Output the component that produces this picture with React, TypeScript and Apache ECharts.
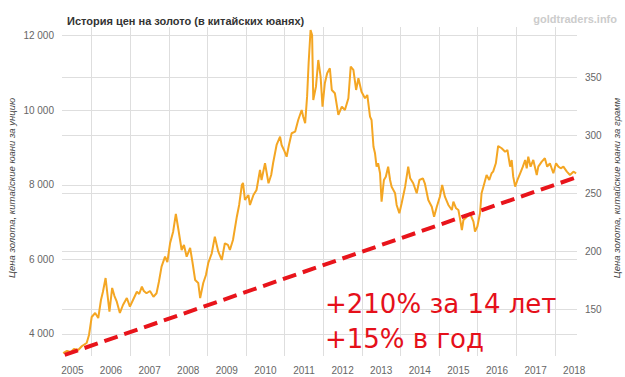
import React, { useEffect, useRef } from "react";
import * as echarts from "echarts";

const titleText = "История цен на золото (в китайских юанях)";
const watermarkText = "goldtraders.info";
const leftAxisName = "Цена золота, китайские юани за унцию";
const rightAxisName = "Цена золота, китайские юани за грамм";
const noteLine1 = "+210% за 14 лет";
const noteLine2 = "+15% в год";

const years = [
  2005.26,2005.36,2005.46,2005.54,2005.65,2005.75,2005.87,2005.93,2006.0,2006.09,
  2006.17,2006.24,2006.29,2006.36,2006.41,2006.46,2006.53,2006.59,2006.65,2006.73,
  2006.81,2006.91,2006.99,2007.07,2007.17,2007.23,2007.30,2007.35,2007.42,2007.51,
  2007.60,2007.68,2007.74,2007.81,2007.90,2007.96,2008.03,2008.11,2008.18,2008.24,
  2008.33,2008.39,2008.46,2008.55,2008.61,2008.68,2008.76,2008.81,2008.89,2008.96,
  2009.02,2009.11,2009.19,2009.28,2009.37,2009.45,2009.53,2009.58,2009.66,2009.76,
  2009.82,2009.89,2009.92,2009.97,2010.06,2010.10,2010.19,2010.27,2010.36,2010.40,
  2010.49,2010.58,2010.65,2010.70,2010.79,2010.88,2010.92,2010.98,2011.05,2011.11,
  2011.18,2011.27,2011.35,2011.44,2011.48,2011.53,2011.58,2011.62,2011.67,2011.71,
  2011.74,2011.81,2011.87,2011.93,2011.98,2012.04,2012.10,2012.17,2012.22,2012.30,
  2012.39,2012.48,2012.56,2012.65,2012.71,2012.78,2012.85,2012.91,2012.99,2013.08,
  2013.14,2013.21,2013.25,2013.30,2013.34,2013.38,2013.42,2013.47,2013.51,2013.57,
  2013.62,2013.68,2013.73,2013.77,2013.86,2013.90,2013.97,2014.03,2014.12,2014.20,
  2014.25,2014.33,2014.42,2014.49,2014.58,2014.63,2014.72,2014.81,2014.87,2014.94,
  2015.02,2015.08,2015.15,2015.24,2015.33,2015.37,2015.44,2015.50,2015.54,2015.59,
  2015.63,2015.72,2015.80,2015.89,2015.93,2015.99,2016.06,2016.10,2016.16,2016.23,
  2016.30,2016.36,2016.40,2016.47,2016.53,2016.62,2016.71,2016.77,2016.84,2016.88,
  2016.92,2016.97,2017.03,2017.10,2017.17,2017.23,2017.27,2017.31,2017.37,2017.44,
  2017.53,2017.57,2017.66,2017.74,2017.80,2017.87,2017.96,2018.03,2018.09,2018.15,
  2018.22,2018.31,2018.39,2018.48,2018.55,
];

const prices = [
  3490,3544,3517,3598,3571,3678,3759,3973,4456,4563,
  4429,4912,5126,5502,5046,4598,5234,5019,4866,4563,
  4778,4965,4732,4912,5134,5073,5269,5153,5092,5153,
  5000,5092,5395,5805,6073,5931,6433,6744,7218,6843,
  6253,6387,6073,6307,5931,5448,5368,4965,5368,5582,
  5904,6164,6610,6207,5985,6433,6387,6253,6521,7146,
  7460,7996,8050,7594,7728,7460,7728,7862,8398,8130,
  8578,8042,8264,8586,9069,9292,9069,8935,8755,9069,
  9383,9426,9739,10008,9828,9651,10365,11268,12153,12019,
  10276,10633,11349,10901,10096,10724,10992,11126,10544,10456,
  9874,10096,10008,10322,11169,11081,10544,10858,10498,10322,
  10410,9828,9739,9023,8846,8487,8578,8310,7548,8130,
  8219,8487,8130,7951,7774,7460,7237,7505,7951,8487,
  8176,8042,7774,8130,8176,8042,7594,7414,7146,7414,
  7682,7996,7682,7460,7326,7548,7371,7326,7103,6789,
  7057,7146,7237,7012,6744,6878,7237,7774,7996,8264,
  8130,8310,8353,8578,9042,8981,8889,8935,8487,8667,
  8219,7951,8130,8310,8487,8667,8444,8755,8487,8667,
  8264,8487,8621,8712,8487,8578,8310,8578,8487,8444,
  8487,8353,8264,8353,8310,
];

const trendYears = [2005.3, 2018.55];
const trendPrices = [3440, 8200];

const leftTicks = [4000, 6000, 8000, 10000, 12000];
const rightTicks = [150, 200, 250, 300, 350];
const yearLines = [2006, 2007, 2008, 2009, 2010, 2011, 2012, 2013, 2014, 2015, 2016, 2017, 2018];
const yearLabels = [2005, 2006, 2007, 2008, 2009, 2010, 2011, 2012, 2013, 2014, 2015, 2016, 2017, 2018];

const GRAMS_PER_OZ = 31.1035;
const Y_MIN = 3410;
const Y_MAX = 12233;
const X_MIN = 2005.2306;
const X_MAX = 2018.5725;

const fmtThousands = (v: number) => String(Math.round(v)).replace(/\B(?=(\d{3})+(?!\d))/g, " ");

export default function App() {
  const ref = useRef<HTMLDivElement>(null);
  useEffect(() => {
    if (!ref.current) return;
    const chart = echarts.init(ref.current, undefined, { renderer: "svg" });
    const font = "'Liberation Sans', Arial, sans-serif";
    const gridColor = "#dedede";
    chart.setOption({
      animation: false,
      backgroundColor: "#ffffff",
      title: {
        text: titleText,
        left: 62,
        top: 10,
        textStyle: { fontSize: 11, fontWeight: "bold", color: "#333333", fontFamily: font },
      },
      grid: { left: 62, right: 48, top: 27, bottom: 21, containLabel: false },
      xAxis: {
        type: "value",
        min: X_MIN,
        max: X_MAX,
        axisLine: { show: false },
        axisTick: { show: false, customValues: yearLines },
        splitLine: { show: true, lineStyle: { color: gridColor, width: 1 } },
        axisLabel: {
          customValues: yearLabels.map((y) => y + 0.5),
          formatter: (v: number) => String(Math.floor(v)),
          color: "#666666",
          fontSize: 10,
          fontFamily: font,
          margin: 9,
        },
      },
      yAxis: [
        {
          type: "value",
          position: "left",
          min: Y_MIN,
          max: Y_MAX,
          axisLine: { show: false },
          axisTick: { show: false, customValues: leftTicks },
          splitLine: { show: true, lineStyle: { color: gridColor, width: 1 } },
          axisLabel: {
            customValues: leftTicks,
            formatter: fmtThousands,
            color: "#666666",
            fontSize: 10,
            fontFamily: font,
            margin: 8,
          },
        },
        {
          type: "value",
          position: "right",
          min: Y_MIN / GRAMS_PER_OZ,
          max: Y_MAX / GRAMS_PER_OZ,
          axisLine: { show: false },
          axisTick: { show: false, customValues: rightTicks },
          splitLine: { show: true, lineStyle: { color: gridColor, width: 1 } },
          axisLabel: {
            customValues: rightTicks,
            formatter: (v: number) => String(Math.round(v)),
            color: "#666666",
            fontSize: 10,
            fontFamily: font,
            margin: 8,
          },
        },
      ],
      series: [
        {
          type: "line",
          yAxisIndex: 0,
          data: years.map((t, i) => [t, prices[i]]),
          showSymbol: false,
          symbol: "none",
          lineStyle: { color: "#f4a623", width: 2 },
          z: 3,
        },
        {
          type: "line",
          yAxisIndex: 0,
          data: trendYears.map((t, i) => [t, trendPrices[i]]),
          showSymbol: false,
          symbol: "none",
          lineStyle: { color: "#e8141b", width: 4, type: [14, 7] },
          z: 4,
        },
      ],
      graphic: [
        {
          type: "text",
          right: 8,
          top: 13,
          style: { text: watermarkText, fill: "#cccccc", font: `bold 11px ${font}` },
        },
        {
          type: "text",
          x: 11,
          y: 188,
          rotation: Math.PI / 2,
          style: {
            text: leftAxisName,
            fill: "#444444",
            font: `italic 9.5px ${font}`,
            textAlign: "center",
            textVerticalAlign: "middle",
          },
        },
        {
          type: "text",
          x: 616,
          y: 188,
          rotation: Math.PI / 2,
          style: {
            text: rightAxisName,
            fill: "#444444",
            font: `italic 9.5px ${font}`,
            textAlign: "center",
            textVerticalAlign: "middle",
          },
        },
        {
          type: "text",
          x: 325,
          y: 304,
          z: 10,
          style: {
            text: noteLine1,
            fill: "#e5101a",
            font: `26px 'DejaVu Sans', sans-serif`,
            textAlign: "left",
            textVerticalAlign: "middle",
          },
        },
        {
          type: "text",
          x: 325,
          y: 339,
          z: 10,
          style: {
            text: noteLine2,
            fill: "#e5101a",
            font: `26px 'DejaVu Sans', sans-serif`,
            textAlign: "left",
            textVerticalAlign: "middle",
          },
        },
      ],
    });
    return () => chart.dispose();
  }, []);
  return (
    <div
      ref={ref}
      style={{ position: "fixed", left: 0, top: 0, width: 625, height: 377 }}
    />
  );
}
